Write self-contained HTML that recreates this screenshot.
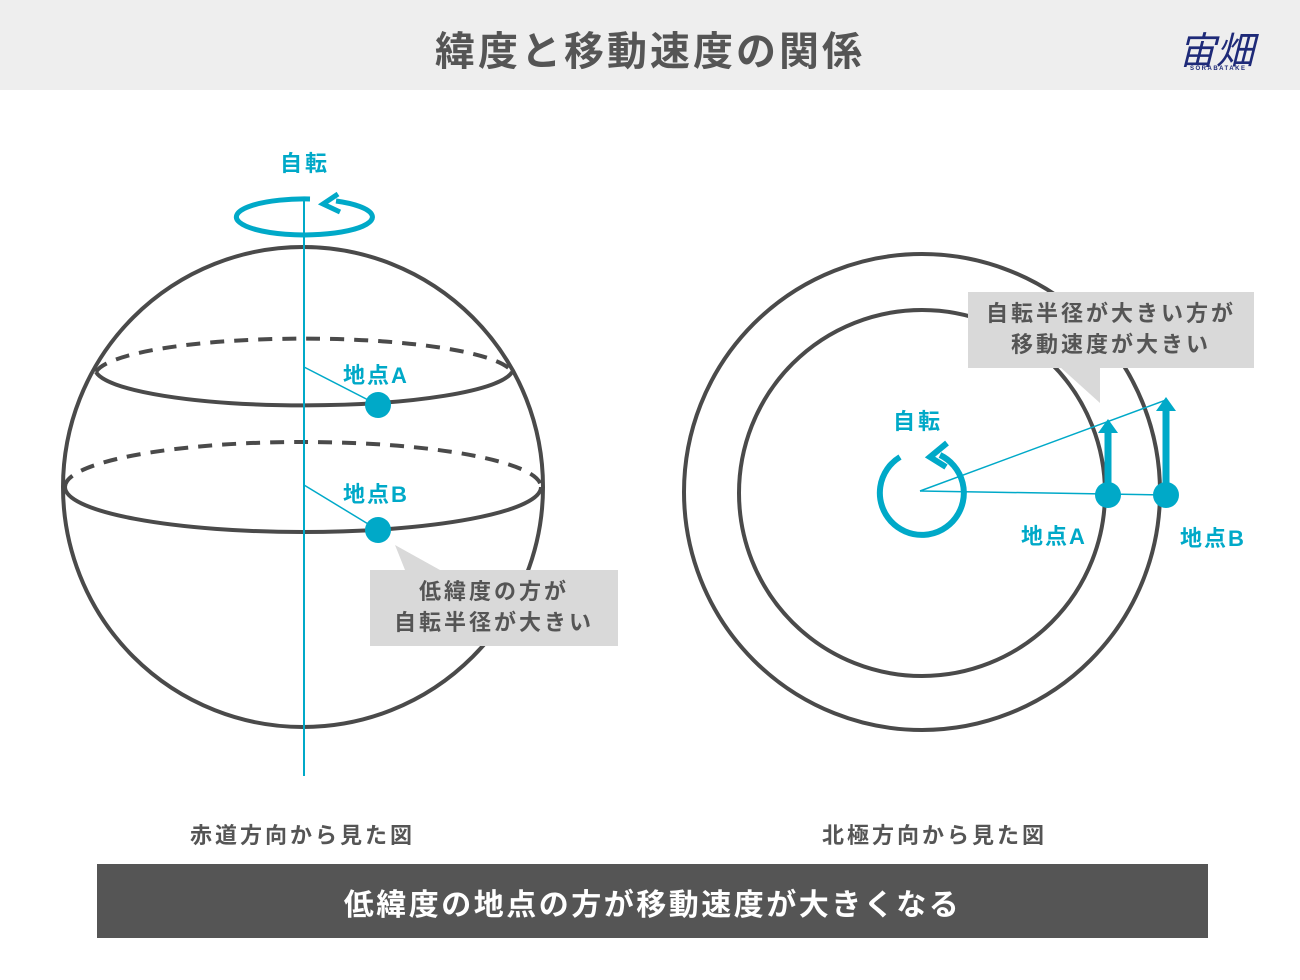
<!DOCTYPE html>
<html><head><meta charset="utf-8"><style>
body{margin:0;width:1300px;height:980px;background:#fff;font-family:"Liberation Sans","Noto Sans CJK JP",sans-serif;overflow:hidden;position:relative}
.t{position:absolute;white-space:nowrap;font-weight:bold}
</style></head><body>
<div style="position:absolute;left:0;top:0;width:1300px;height:90px;background:#eeeeee"></div>
<div class="t" style="left:0;width:1300px;text-align:center;top:19px;font-size:40px;letter-spacing:3px;color:#555">緯度と移動速度の関係</div>
<div class="t" style="left:1178px;top:20px;font-size:38px;color:#1e2a78;font-weight:normal;font-style:italic">宙畑</div>
<div class="t" style="left:1190px;top:66px;font-size:6px;color:#1e2a78;letter-spacing:1.5px">SORABATAKE</div>
<svg width="1300" height="980" style="position:absolute;left:0;top:0">
<g fill="none" stroke="#4a4a4a" stroke-width="4">
<circle cx="303" cy="487" r="240"/>
<path d="M96 372 A209 37 0 0 0 512 372" />
<path d="M96 372 A209 37 0 0 1 512 372" stroke-dasharray="14 10"/>
<path d="M65 487 A238 45 0 0 0 541 487"/>
<path d="M65 487 A238 45 0 0 1 541 487" stroke-dasharray="14 10"/>
<circle cx="922" cy="492" r="238"/>
<circle cx="922" cy="493" r="183"/>
</g>
<g stroke="#00a9c8" fill="none">
<line x1="304" y1="198" x2="304" y2="776" stroke-width="2"/>
<path d="M336 201 A68 18 0 1 1 310 199" stroke-width="5"/>
<path d="M338 194 L323 204 L340 212" stroke-width="5"/>
<line x1="304" y1="367" x2="378" y2="405" stroke-width="1.5"/>
<line x1="304" y1="485" x2="378" y2="530" stroke-width="1.5"/>
<line x1="920" y1="491" x2="1166" y2="400" stroke-width="1.5"/>
<line x1="920" y1="491" x2="1166" y2="495" stroke-width="1.5"/>
<path d="M940 455 A42 42 0 1 1 900 457" stroke-width="6"/>
<path d="M947 443 L930 457 L946 467" stroke-width="6"/>
<line x1="1108" y1="495" x2="1108" y2="428" stroke-width="7"/>
<line x1="1166" y1="495" x2="1166" y2="408" stroke-width="7"/>
</g>
<g fill="#00a9c8">
<circle cx="378" cy="405" r="13"/><circle cx="378" cy="530" r="13"/>
<circle cx="1108" cy="495" r="13"/><circle cx="1166" cy="495" r="13"/>
<polygon points="1108,419 1098,433 1118,433"/>
<polygon points="1166,397 1156,411 1176,411"/>
</g>
<g fill="#d9d9d9">
<polygon points="395,545 440,570 405,570"/>
<rect x="370" y="570" width="248" height="76"/>
<polygon points="1100,403 1060,367 1100,367"/>
<rect x="968" y="292" width="286" height="76"/>
</g>
</svg>
<div class="t" style="left:280px;top:146px;font-size:22px;letter-spacing:3px;color:#00a9c8">自転</div>
<div class="t" style="left:343px;top:358px;font-size:22px;letter-spacing:2px;color:#00a9c8">地点A</div>
<div class="t" style="left:343px;top:477px;font-size:22px;letter-spacing:2px;color:#00a9c8">地点B</div>
<div class="t" style="left:370px;width:248px;text-align:center;top:576px;font-size:22px;letter-spacing:3px;color:#555;line-height:31px">低緯度の方が<br>自転半径が大きい</div>
<div class="t" style="left:968px;width:286px;text-align:center;top:298px;font-size:22px;letter-spacing:3px;color:#555;line-height:31px">自転半径が大きい方が<br>移動速度が大きい</div>
<div class="t" style="left:893px;top:404px;font-size:22px;letter-spacing:3px;color:#00a9c8">自転</div>
<div class="t" style="left:1021px;top:519px;font-size:22px;letter-spacing:2px;color:#00a9c8">地点A</div>
<div class="t" style="left:1180px;top:521px;font-size:22px;letter-spacing:2px;color:#00a9c8">地点B</div>
<div class="t" style="left:190px;top:818px;font-size:22px;letter-spacing:3px;color:#555">赤道方向から見た図</div>
<div class="t" style="left:822px;top:818px;font-size:22px;letter-spacing:3px;color:#555">北極方向から見た図</div>
<div style="position:absolute;left:97px;top:864px;width:1111px;height:74px;background:#555"></div>
<div class="t" style="left:97px;width:1111px;text-align:center;top:880px;font-size:30px;letter-spacing:2.5px;color:#fff">低緯度の地点の方が移動速度が大きくなる</div>
</body></html>
